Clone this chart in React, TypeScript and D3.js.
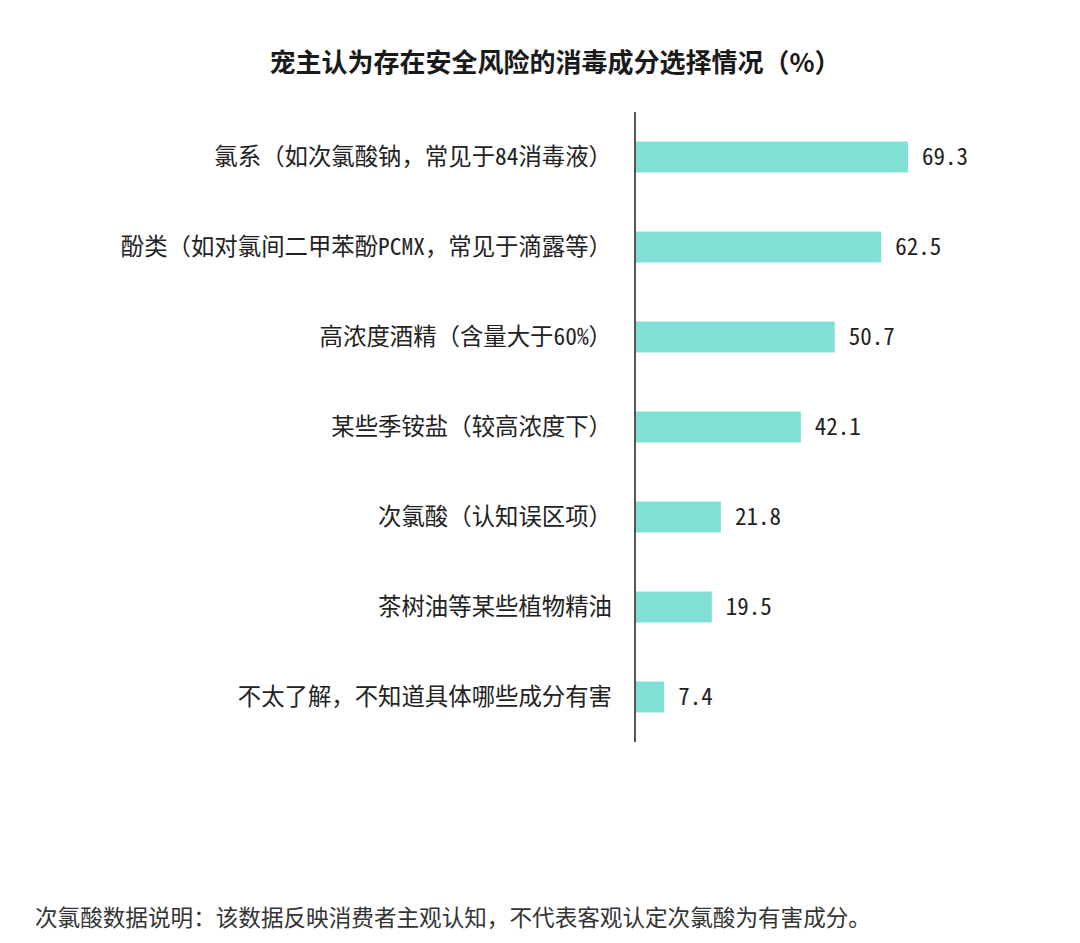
import * as d3 from 'd3';

const categories = [
  '氯系（如次氯酸钠，常见于84消毒液）',
  '酚类（如对氯间二甲苯酚PCMX，常见于滴露等）',
  '高浓度酒精（含量大于60%）',
  '某些季铵盐（较高浓度下）',
  '次氯酸（认知误区项）',
  '茶树油等某些植物精油',
  '不太了解，不知道具体哪些成分有害',
];
const values = [69.3, 62.5, 50.7, 42.1, 21.8, 19.5, 7.4];

const title = '宠主认为存在安全风险的消毒成分选择情况（%）';
const note = '次氯酸数据说明：该数据反映消费者主观认知，不代表客观认定次氯酸为有害成分。';

const W = 1080;
const H = 943;
const FONT = '"Noto Sans CJK SC", "Noto Sans", sans-serif';

// half-width digits / latin runs, like the monospaced ASCII of the source font
function mixed(s: string) {
  return s.split(/([\x21-\x7e]+)/).filter(Boolean).map((part, i) =>
    /^[\x21-\x7e]+$/.test(part)
      ? <tspan key={i} style={{ fontFeatureSettings: '"hwid"' }}>{part}</tspan>
      : <tspan key={i}>{part}</tspan>
  );
}

export default function App() {
  const axisX = 635;
  const x = d3.scaleLinear().domain([0, 80]).range([axisX, axisX + 80 * 3.94]);
  const y = d3.scaleBand<string>()
    .domain(categories)
    .range([112, 742])
    .paddingInner(0.656)
    .paddingOuter(0.328);

  const [y0, y1] = y.range();

  return (
    <svg
      width={W}
      height={H}
      style={{ position: 'absolute', left: 0, top: 0, background: '#fff', fontFamily: FONT }}
    >
      <text x={555} y={72} textAnchor="middle" fontSize={26} fontWeight="bold" fill="#1a1a1a">
        {title}
      </text>

      {categories.map((c, i) => {
        const by = y(c) ?? 0;
        const cy = by + y.bandwidth() / 2;
        return (
          <g key={c}>
            <rect x={x(0)} y={by} width={x(values[i]) - x(0)} height={y.bandwidth()} fill="#80e0d6" />
            <text x={612} y={cy} dy="0.35em" textAnchor="end" fontSize={23.4} fill="#222">
              {mixed(c)}
            </text>
            <text x={x(values[i]) + 14} y={cy} dy="0.35em" fontSize={23} fill="#222"
              style={{ fontFeatureSettings: '"hwid"' }}>
              {values[i].toFixed(1)}
            </text>
          </g>
        );
      })}

      <line x1={axisX} x2={axisX} y1={y0} y2={y1} stroke="#555" strokeWidth={2} />

      <text x={35} y={926} fontSize={22.6} fill="#333">
        {note}
      </text>
    </svg>
  );
}
